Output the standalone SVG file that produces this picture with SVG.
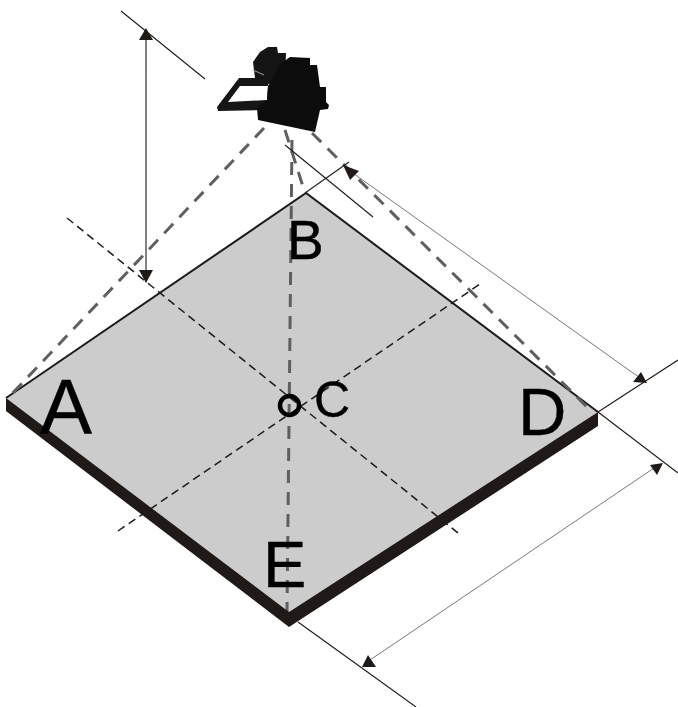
<svg xmlns="http://www.w3.org/2000/svg" width="678" height="707" viewBox="0 0 678 707">
<style>
.t{font-family:"Liberation Sans",Arial,sans-serif;fill:#000;stroke:#000;stroke-width:.4}
.thin{stroke:#1f1a17;stroke-width:1.1;fill:none}
.hair{stroke:#555;stroke-width:.8;fill:none}
.dash{stroke:#1f1a17;stroke-width:1.5;stroke-dasharray:8 5;fill:none}
.gd{stroke:#5f5f5f;stroke-width:3;stroke-dasharray:13 9;fill:none}
.head{fill:#1f1a17}
</style>
<rect width="678" height="707" fill="#fff"/>
<g id="board">
<polygon points="6,398 306,193 598,412 289,612" fill="#ccc"/>
<polyline points="6,398 306,193 598,412" fill="none" stroke="#1f1a17" stroke-width="2"/>
</g>
<g id="connectors">
<path class="dash" d="M67 218L458 533M118 531L480 284"/>
<path class="gd" d="M264 128L8 398M312 133L592 412M292 140L287 612M285 130L305 193"/>
<path class="thin" d="M121 11L205 79M146 30V282M305 193L349 162M285 145L373 217M598 412L678 360M598 412L678 473M298 622L416 707"/>
<path class="hair" d="M350 171L640 378M657 466L370 660"/>
<polygon class="head" points="146,28 153,40 139,40"/>
<polygon class="head" points="146,283 139,270 153,270"/>
<polygon class="head" points="343,165 359,171 350,180"/>
<polygon class="head" points="647,383 633,382 641,372"/>
<polygon class="head" points="663,463 650,465 657,475"/>
<polygon class="head" points="362,667 368,655 376,667"/>
</g>
<g id="board-edge">
<polygon points="6,398 289,612 598,412 598,426 289,627 6,411" fill="#1f1a17"/>
</g>
<g id="camera">
<path fill-rule="evenodd" d="M217 107L239 78L268 78L268 110L218 111ZM228 102L240 86L268 86L267 100Z" fill="#161616"/>
<path d="M253 62L260 52L268 47L277 47L278 53L286 53L285 80L268 84L255 78Z" fill="#141414"/>
<path d="M268 86L280 64L290 57L310 58L310 65L317 65L320 87L326 87L326 102L329 105L328 109L320 110L315 132L258 120L257 108L267 100Z" fill="#0c0c0c"/>
<path d="M253 70L264 75" stroke="#8a8a8a" stroke-width="1.2" fill="none"/>
</g>
<g id="marker-c"><circle cx="289.5" cy="405.500" r="9.5" fill="none" stroke="#000" stroke-width="4.500"/></g>
<g id="labels">
<text class="t" x="40" y="434" font-size="78">A</text>
<text class="t" x="287" y="259" font-size="55">B</text>
<text class="t" x="314" y="417" font-size="50">C</text>
<text class="t" x="518" y="435" font-size="67">D</text>
<text class="t" x="263" y="587" font-size="65">E</text>
</g>
</svg>
